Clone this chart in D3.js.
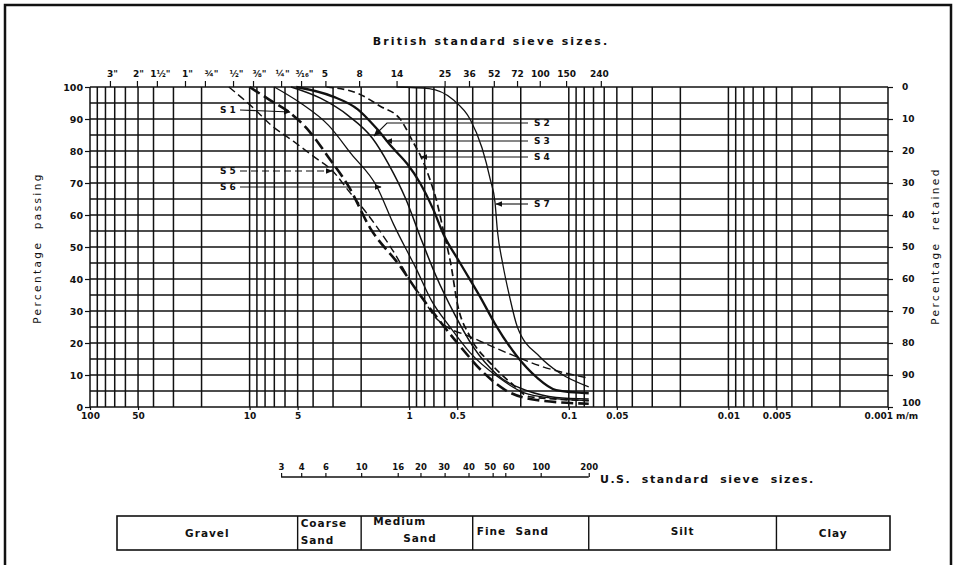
<!DOCTYPE html>
<html><head><meta charset="utf-8">
<script src="https://cdn.jsdelivr.net/npm/d3@7"></script>
<style>
body{margin:0;background:#fff}
svg{display:block}
text{font-family:"DejaVu Sans",sans-serif;fill:#111}
</style>
</head><body>
<svg id="chart" width="956" height="565"></svg>
<script>
// ---------- data ----------
const passTicks = [0,10,20,30,40,50,60,70,80,90,100];
const retainedTicks = [0,10,20,30,40,50,60,70,80,90,100];
const sizeTicks = [100,50,10,5,1,0.5,0.1,0.05,0.01,0.005,0.001];
const sizeTickLabels = ["100","50","10","5","1","0.5","0.1","0.05","0.01","0.005","0.001 m/m"];
const bsSieveSizes = [75,50.8,38.1,25.4,19.05,12.7,9.52,6.35,4.76,3.35,2.06,1.20,0.60,0.422,0.295,0.211,0.152,0.104,0.063];
const bsSieveLabels = ['3"','2"','1½"','1"','¾"','½"','⅜"','¼"','³⁄₁₆"','5','8','14','25','36','52','72','100','150','240'];
const usSieveSizes = [6.35,4.75,3.35,2.0,1.18,0.85,0.6,0.425,0.3,0.25,0.15,0.075];
const usSieveLabels = ['3','4','6','10','16','20','30','40','50','60','100','200'];
const soilNames = ['Gravel','Coarse|Sand','Medium|Sand','Fine  Sand','Silt','Clay'];
const soilBounds = [5,2,0.4,0.075,0.005];

// grading curves: [size mm, % passing]
const S1 = [[10,100],[7.5,96],[5.6,92],[4.2,86],[3.2,78],[2.4,69],[1.76,56],[1.14,44],[0.9,36.5],[0.67,28],[0.48,19],[0.34,10.6],[0.25,5.3],[0.16,2.2],[0.075,1]];
const S2 = [[5.5,100],[3.6,96.5],[2.4,91],[1.7,84],[1.35,76],[1.05,65],[0.85,53],[0.68,41],[0.52,29],[0.4,19],[0.28,10],[0.18,5],[0.12,3],[0.075,2.5]];
const S3 = [[5.1,100],[3.0,97],[2.1,93],[1.6,87],[1.27,81],[1.03,76],[0.855,70],[0.71,62],[0.61,54],[0.48,45],[0.36,34.5],[0.29,26],[0.21,15.7],[0.16,9.4],[0.12,5.3],[0.075,4.3]];
const S4 = [[3.3,100],[2.1,98],[1.52,94],[1.14,90],[0.95,83],[0.84,78],[0.74,71],[0.67,64],[0.61,55],[0.55,45],[0.5,32.5],[0.416,22],[0.31,13.7],[0.23,7.5],[0.176,3.2],[0.075,2]];
const S5 = [[13.5,100],[9.5,93.5],[7.3,88],[5.3,83],[3.9,78],[3.05,74],[2.35,67],[1.84,60.5],[1.48,54],[1.2,47],[1.0,40],[0.8,33],[0.7,28.5],[0.6,25.5],[0.416,22],[0.246,17],[0.146,12.6],[0.075,9]];
const S6 = [[7,100],[4.8,95],[3.2,88],[2.3,79],[1.6,69],[1.25,57],[0.9,43],[0.72,33],[0.555,25],[0.416,17],[0.28,9.5],[0.19,4.4],[0.13,2.8],[0.075,2]];
const S7 = [[1.2,100],[0.75,99.5],[0.53,96],[0.416,90],[0.35,81],[0.31,71],[0.29,64],[0.28,55],[0.26,45],[0.235,34.5],[0.21,25],[0.152,15.7],[0.114,10.6],[0.075,6.3]];
const seriesNames = ['S 1','S 2','S 3','S 4','S 5','S 6','S 7'];
const seriesData = [S1,S2,S3,S4,S5,S6,S7];

// ---------- layout / styles ----------
const svg = d3.select('#chart');
const L = 90, R = 888, T = 87, B = 407;
const x = d3.scaleLog().domain([100,0.001]).range([L,R]);
const y = d3.scaleLinear().domain([0,100]).range([B,T]);
const yR = d3.scaleLinear().domain([100,0]).range([B,T]);
const ink = '#111';

// page border
svg.append('path').attr('d','M5,565 V5 H951 V565').attr('fill','none').attr('stroke',ink).attr('stroke-width',2.5);

// grid
const grid = svg.append('g').attr('stroke',ink).attr('stroke-width',1.5);
grid.selectAll('line.v').data(x.ticks()).join('line')
  .attr('x1',d=>x(d)).attr('x2',d=>x(d)).attr('y1',T).attr('y2',B);
grid.selectAll('line.h').data(d3.range(0,101,5)).join('line')
  .attr('x1',L).attr('x2',R).attr('y1',d=>y(d)).attr('y2',d=>y(d));

const tickFont = (size=9) => g => g.selectAll('text').attr('font-size',size).attr('font-weight','bold').attr('fill',ink);
const clean = g => { g.select('.domain').remove(); g.selectAll('line').attr('stroke',ink).attr('stroke-width',1.2); };

// left axis
svg.append('g').attr('transform',`translate(${L},0)`)
  .call(d3.axisLeft(y).tickValues(passTicks).tickSize(5).tickPadding(2))
  .call(clean).call(tickFont(9.5));
// right axis
svg.append('g').attr('transform',`translate(${R},0)`)
  .call(d3.axisRight(yR).tickValues(retainedTicks).tickSize(5).tickPadding(9))
  .call(clean).call(tickFont(9))
  .call(g=>g.selectAll('.tick').filter(d=>d===100).select('text').attr('y',-4).attr('x',14));
// bottom axis
svg.append('g').attr('transform',`translate(0,${B})`)
  .call(d3.axisBottom(x).tickValues(sizeTicks).tickFormat((d,i)=>sizeTickLabels[i]).tickSize(3).tickPadding(3))
  .call(clean).call(tickFont(9))
  .call(g=>g.selectAll('.tick').filter(d=>d===0.001).select('text').attr('text-anchor','start').attr('dx',-24));
// top axis (British sieves)
const topNudge = [2,1,3,2,6,3,6,1,3,-1,0,0,0,0,0,0,0,0,-2];
svg.append('g').attr('transform',`translate(0,${T})`)
  .call(d3.axisTop(x).tickValues(bsSieveSizes).tickFormat((d,i)=>bsSieveLabels[i]).tickSize(6).tickPadding(4))
  .call(clean).call(tickFont(9))
  .call(g=>g.selectAll('.tick text').attr('dx',(d,i)=>topNudge[i]));

svg.append('text').attr('x',491).attr('y',45).attr('text-anchor','middle')
  .attr('font-size',11).attr('font-weight','bold').attr('letter-spacing',2.1)
  .text('British standard sieve sizes.');

svg.append('text').attr('transform','translate(41,248) rotate(-90)').attr('text-anchor','middle')
  .attr('font-size',10.5).attr('letter-spacing',2.4).attr('xml:space','preserve').style('white-space','pre')
  .text('Percentage  passing');
svg.append('text').attr('transform','translate(939,246) rotate(-90)').attr('text-anchor','middle')
  .attr('font-size',10.5).attr('letter-spacing',2.4).attr('xml:space','preserve').style('white-space','pre')
  .text('Percentage  retained');

// curves
const line = d3.line().x(d=>x(d[0])).y(d=>y(d[1])).curve(d3.curveMonotoneX);
const styles = [
  {w:2.6,dash:'12,5'},
  {w:1.5,dash:null},
  {w:2.3,dash:null},
  {w:1.7,dash:'7,4'},
  {w:1.4,dash:'8,4'},
  {w:1.3,dash:null},
  {w:1.3,dash:null}
];
svg.append('g').selectAll('path').data(seriesData).join('path')
  .attr('d',line).attr('fill','none').attr('stroke',ink)
  .attr('stroke-width',(d,i)=>styles[i].w)
  .attr('stroke-dasharray',(d,i)=>styles[i].dash);

// curve labels with arrows
svg.append('defs').append('marker').attr('id','arr').attr('viewBox','0 0 10 10')
  .attr('refX',9).attr('refY',5).attr('markerWidth',7).attr('markerHeight',7)
  .attr('orient','auto-start-reverse').attr('markerUnits','userSpaceOnUse')
  .append('path').attr('d','M0,1 L10,5 L0,9 z').attr('fill',ink);

const labelPos = [
  {tx:220, ty:113, pts:[[240,110],[290,112]], dash:null},
  {tx:534, ty:126, pts:[[528,123],[387,123],[374,136]], dash:null},
  {tx:534, ty:144, pts:[[528,141],[386,141]], dash:null},
  {tx:534, ty:160, pts:[[528,157],[421,157]], dash:null},
  {tx:220, ty:174, pts:[[240,171],[332,171]], dash:'7,4'},
  {tx:220, ty:190, pts:[[240,187],[381,187]], dash:null},
  {tx:534, ty:207, pts:[[528,204],[496,204]], dash:null}
];
const lg = svg.append('g');
lg.selectAll('text').data(seriesNames).join('text')
  .attr('x',(d,i)=>labelPos[i].tx).attr('y',(d,i)=>labelPos[i].ty)
  .attr('font-size',9).attr('font-weight','bold').text(d=>d);
lg.selectAll('path').data(labelPos).join('path')
  .attr('d',d=>d3.line()(d.pts)).attr('fill','none').attr('stroke',ink).attr('stroke-width',1.1)
  .attr('stroke-dasharray',d=>d.dash).attr('marker-end','url(#arr)');

// US sieve scale
const usY = 477;
const usNudge = [0,0,0,0,0,0,-1,0,-3,3,0,0];
const us = svg.append('g');
us.append('line').attr('x1',x(usSieveSizes[0])).attr('x2',x(usSieveSizes[usSieveSizes.length-1]))
  .attr('y1',usY).attr('y2',usY).attr('stroke',ink).attr('stroke-width',1.4);
us.append('g').attr('transform',`translate(0,${usY})`)
  .call(d3.axisTop(x).tickValues(usSieveSizes).tickFormat((d,i)=>usSieveLabels[i]).tickSize(4).tickPadding(3))
  .call(clean).call(tickFont(8.5))
  .call(g=>g.selectAll('.tick text').attr('dx',(d,i)=>usNudge[i]));
svg.append('text').attr('x',600).attr('y',483).attr('font-size',11).attr('font-weight','bold')
  .attr('letter-spacing',1.5).attr('xml:space','preserve').style('white-space','pre')
  .text('U.S.  standard  sieve  sizes.');

// soil classification table
const tT = 516, tB = 550, tL = 117, tR = 890;
const edges = [tL, ...soilBounds.map(d=>x(d)), tR];
const tab = svg.append('g');
tab.append('rect').attr('x',tL).attr('y',tT).attr('width',tR-tL).attr('height',tB-tT)
  .attr('fill','none').attr('stroke',ink).attr('stroke-width',1.6);
tab.selectAll('line').data(soilBounds).join('line')
  .attr('x1',d=>x(d)).attr('x2',d=>x(d)).attr('y1',tT).attr('y2',tB)
  .attr('stroke',ink).attr('stroke-width',1.4);
const cellText = [
  {dx:'mid', lines:[[0,537]]},
  {dx:3, lines:[[0,527],[0,544]]},
  {dx:12, lines:[[0,525],[30,542]]},
  {dx:4, lines:[[0,535]]},
  {dx:'mid', lines:[[0,535]]},
  {dx:'mid', lines:[[0,537]]}
];
soilNames.forEach((name,i)=>{
  const parts = name.split('|');
  const c = cellText[i];
  parts.forEach((p,j)=>{
    const mid = c.dx==='mid';
    tab.append('text')
      .attr('x', mid ? (edges[i]+edges[i+1])/2 : edges[i]+c.dx+c.lines[j][0])
      .attr('y', c.lines[j][1])
      .attr('text-anchor', mid ? 'middle':'start')
      .attr('font-size',10.5).attr('font-weight','bold').attr('letter-spacing',1)
      .attr('xml:space','preserve').style('white-space','pre')
      .text(p);
  });
});
</script>
</body></html>
